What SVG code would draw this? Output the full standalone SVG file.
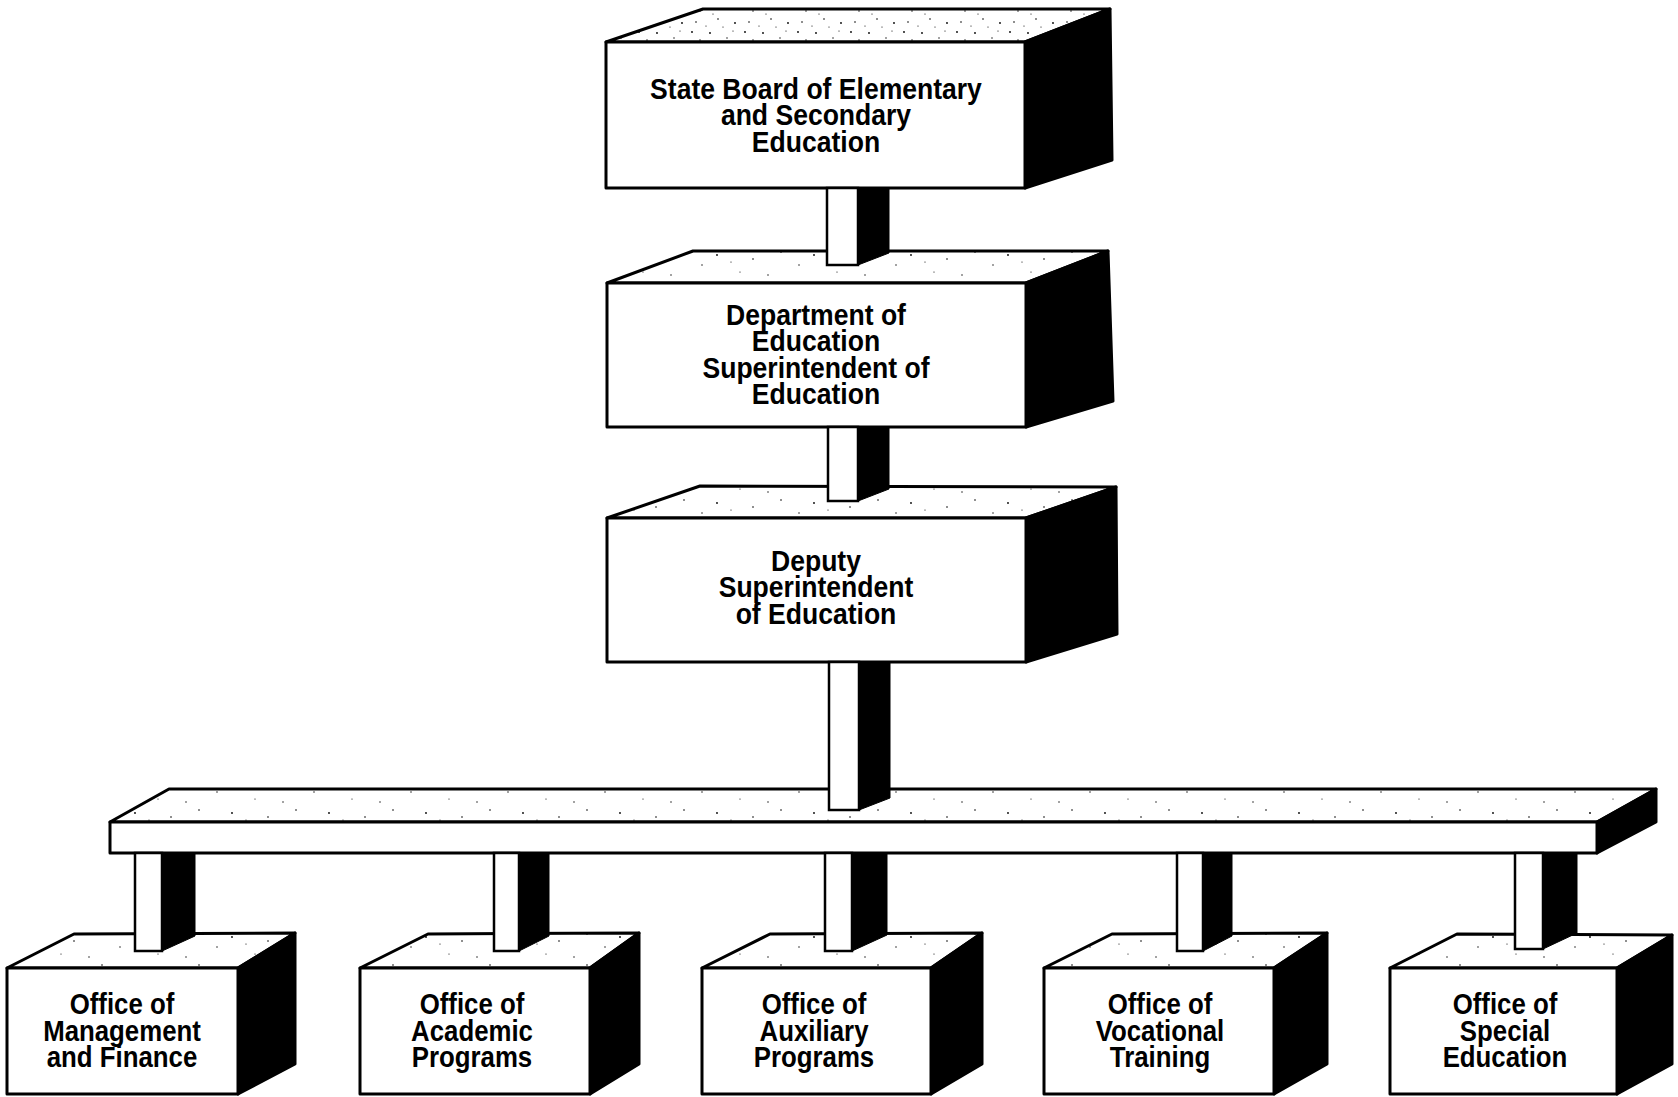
<svg xmlns="http://www.w3.org/2000/svg" width="1678" height="1097" viewBox="0 0 1678 1097">
<defs>
<pattern id="stip" width="97" height="31" patternUnits="userSpaceOnUse">
<rect width="97" height="31" fill="#fff"/>
<circle cx="5" cy="4" r="0.8" fill="#000"/><circle cx="23" cy="17" r="0.7" fill="#000"/><circle cx="38" cy="7" r="0.9" fill="#000"/><circle cx="61" cy="24" r="0.6" fill="#000"/><circle cx="74" cy="11" r="0.8" fill="#000"/><circle cx="89" cy="27" r="0.7" fill="#000"/><circle cx="52" cy="14" r="0.6" fill="#000"/>
</pattern>
<pattern id="stipd" width="53" height="29" patternUnits="userSpaceOnUse">
<rect width="53" height="29" fill="#fff"/>
<circle cx="3" cy="3" r="0.9" fill="#000"/><circle cx="11" cy="11" r="0.7" fill="#000"/><circle cx="21" cy="4" r="0.9" fill="#000"/><circle cx="29" cy="19" r="0.8" fill="#000"/><circle cx="7" cy="22" r="0.8" fill="#000"/><circle cx="17" cy="26" r="0.6" fill="#000"/><circle cx="38" cy="9" r="0.7" fill="#000"/><circle cx="46" cy="23" r="0.9" fill="#000"/><circle cx="44" cy="2" r="0.6" fill="#000"/><circle cx="34" cy="27" r="0.6" fill="#000"/><circle cx="24" cy="14" r="0.6" fill="#000"/>
</pattern>
</defs>
<style>
.front{fill:#fff;stroke:#000;stroke-width:3;stroke-linejoin:round}
.top{fill:url(#stip);stroke:#000;stroke-width:3;stroke-linejoin:round}
.topd{fill:url(#stipd);stroke:#000;stroke-width:3;stroke-linejoin:round}
.side{fill:#000;stroke:#000;stroke-width:3;stroke-linejoin:round}
.pw{fill:#fff;stroke:#000;stroke-width:2.5}
.pb{fill:#000;stroke:#000;stroke-width:1}
.lbl{font-family:"Liberation Sans",Arial,Helvetica,sans-serif;font-weight:bold;font-size:29.5px;text-anchor:middle;fill:#000}
.lbls{font-family:"Liberation Sans",Arial,Helvetica,sans-serif;font-weight:bold;font-size:29px;text-anchor:middle;fill:#000}
</style>
<rect width="1678" height="1097" fill="#fff"/>

<g id="state-board">
<polygon class="topd" points="606,42 703,9 1110,9 1025,42"/>
<polygon class="side" points="1025,42 1110,9 1112,160 1025,188"/>
<rect class="front" x="606" y="42" width="419" height="146"/>
<g transform="translate(816 0) scale(0.9 1)"><text class="lbl"><tspan x="0" y="99">State Board of Elementary</tspan><tspan x="0" y="125.5">and Secondary</tspan><tspan x="0" y="152">Education</tspan></text></g>
</g>

<g id="department">
<polygon class="top" points="607,283 693,251 1108,251 1026,283"/>
<polygon class="side" points="1026,283 1108,251 1113,401 1026,427"/>
<rect class="front" x="607" y="283" width="419" height="144"/>
<g transform="translate(816 0) scale(0.9 1)"><text class="lbl"><tspan x="0" y="325">Department of</tspan><tspan x="0" y="351.5">Education</tspan><tspan x="0" y="378">Superintendent of</tspan><tspan x="0" y="404.5">Education</tspan></text></g>
</g>

<g id="deputy">
<polygon class="top" points="607,518 700,486 1116,487 1026,518"/>
<polygon class="side" points="1026,518 1116,487 1117,634 1026,662"/>
<rect class="front" x="607" y="518" width="419" height="144"/>
<g transform="translate(816 0) scale(0.9 1)"><text class="lbl"><tspan x="0" y="571">Deputy</tspan><tspan x="0" y="597.5">Superintendent</tspan><tspan x="0" y="624">of Education</tspan></text></g>
</g>

<g id="office-management">
<polygon class="top" points="7,968 74,934 295,933 238,968"/>
<polygon class="side" points="238,968 295,933 295,1064 238,1094"/>
<rect class="front" x="7" y="968" width="231" height="126"/>
<g transform="translate(122 0) scale(0.89 1)"><text class="lbls"><tspan x="0" y="1014">Office of</tspan><tspan x="0" y="1041">Management</tspan><tspan x="0" y="1067">and Finance</tspan></text></g>
</g>

<g id="office-academic">
<polygon class="top" points="360,968 428,934 639,933 590,968"/>
<polygon class="side" points="590,968 639,933 639,1064 590,1094"/>
<rect class="front" x="360" y="968" width="230" height="126"/>
<g transform="translate(472 0) scale(0.89 1)"><text class="lbls"><tspan x="0" y="1014">Office of</tspan><tspan x="0" y="1041">Academic</tspan><tspan x="0" y="1067">Programs</tspan></text></g>
</g>

<g id="office-auxiliary">
<polygon class="top" points="702,968 770,934 982,933 931,968"/>
<polygon class="side" points="931,968 982,933 982,1064 931,1094"/>
<rect class="front" x="702" y="968" width="229" height="126"/>
<g transform="translate(814 0) scale(0.89 1)"><text class="lbls"><tspan x="0" y="1014">Office of</tspan><tspan x="0" y="1041">Auxiliary</tspan><tspan x="0" y="1067">Programs</tspan></text></g>
</g>

<g id="office-vocational">
<polygon class="top" points="1044,968 1112,934 1327,933 1274,968"/>
<polygon class="side" points="1274,968 1327,933 1327,1064 1274,1094"/>
<rect class="front" x="1044" y="968" width="230" height="126"/>
<g transform="translate(1160 0) scale(0.89 1)"><text class="lbls"><tspan x="0" y="1014">Office of</tspan><tspan x="0" y="1041">Vocational</tspan><tspan x="0" y="1067">Training</tspan></text></g>
</g>

<g id="office-special">
<polygon class="top" points="1390,968 1457,934 1672,935 1617,968"/>
<polygon class="side" points="1617,968 1672,935 1672,1064 1617,1094"/>
<rect class="front" x="1390" y="968" width="227" height="126"/>
<g transform="translate(1505 0) scale(0.89 1)"><text class="lbls"><tspan x="0" y="1014">Office of</tspan><tspan x="0" y="1041">Special</tspan><tspan x="0" y="1067">Education</tspan></text></g>
</g>

<g id="connectors">
<polygon class="top" points="110,822 169,789 1656,789 1597,822"/>
<polygon class="side" points="1597,822 1656,789 1656,822 1597,853"/>
<rect class="front" x="110" y="822" width="1487" height="31"/>
<rect class="pw" x="827" y="188" width="31" height="77"/>
<polygon class="pb" points="858,188 889,188 889,253 858,265"/>
<rect class="pw" x="828" y="427" width="30" height="74"/>
<polygon class="pb" points="858,427 889,427 889,489 858,501"/>
<rect class="pw" x="829" y="662" width="30" height="148"/>
<polygon class="pb" points="859,662 890,662 890,798 859,810"/>
<rect class="pw" x="135" y="853" width="27" height="98"/>
<polygon class="pb" points="162,853 195,853 195,936 162,951"/>
<rect class="pw" x="494" y="853" width="25" height="98"/>
<polygon class="pb" points="519,853 549,853 549,936 519,951"/>
<rect class="pw" x="825" y="853" width="27" height="98"/>
<polygon class="pb" points="852,853 887,853 887,935 852,951"/>
<rect class="pw" x="1177" y="853" width="26" height="98"/>
<polygon class="pb" points="1203,853 1232,853 1232,936 1203,951"/>
<rect class="pw" x="1515" y="853" width="28" height="96"/>
<polygon class="pb" points="1543,853 1577,853 1577,933 1543,949"/>
</g>
</svg>
